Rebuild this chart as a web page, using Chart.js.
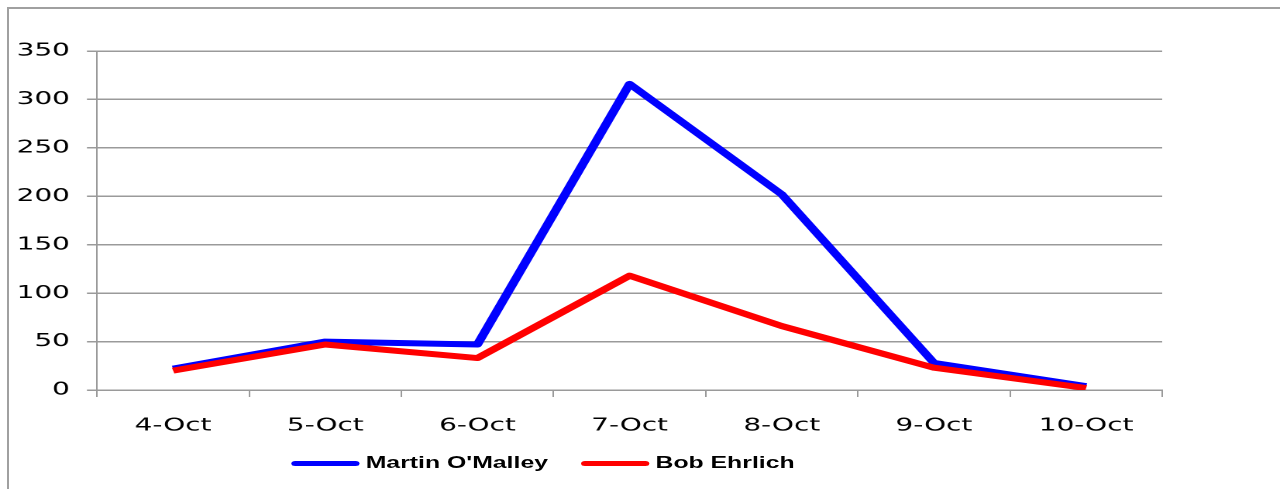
<!DOCTYPE html>
<html>
<head>
<meta charset="utf-8">
<script src="https://cdn.jsdelivr.net/npm/chart.js@4"></script>
<style>
  html, body { margin: 0; padding: 0; background: #fff; overflow: hidden; }
  #frame {
    position: absolute; left: 7px; top: 7px; width: 1300px; height: 520px;
    border-left: 2px solid #a0a0a0; border-top: 2px solid #a0a0a0;
  }
  /* the original picture is stretched sideways, so draw narrow and widen */
  #wrap {
    position: absolute; left: 0; top: 0; width: 826px; height: 489px;
    transform: scaleX(1.5496); transform-origin: 0 0;
  }
  #legend {
    position: absolute; top: 451px; left: 0; width: 826px; height: 24px;
    font: bold 16px "Liberation Sans", Arial, sans-serif; color: #000;
  }
  .item { position: absolute; top: 0; display: flex; align-items: center; height: 24px; }
  .swatch { width: 44px; height: 5px; border-radius: 3px; margin-right: 4px; }
</style>
</head>
<body>
<div id="frame"></div>
<div id="wrap">
  <canvas id="chart" width="826" height="489"></canvas>
  <div id="legend"></div>
</div>
<script>
const days = ['4-Oct', '5-Oct', '6-Oct', '7-Oct', '8-Oct', '9-Oct', '10-Oct'];
const omalley = [22, 50, 47, 316, 202, 28, 4];
const ehrlich = [20, 47, 33, 118, 66, 23, 2];
const yTicks = [0, 50, 100, 150, 200, 250, 300, 350];

const gridColor = '#9a9a9a';
const tickFont = { family: '"DejaVu Sans", Verdana, sans-serif', size: 18 };

const line = {
    borderWidth: 6,
    pointRadius: 0,
    tension: 0,
    fill: false,
    borderJoinStyle: 'round',
};

const series = [
    { label: "Martin O'Malley", data: omalley, color: '#0000ff', order: 1 },
    { label: 'Bob Ehrlich',     data: ehrlich, color: '#ff0000', order: 0 },
];

new Chart(document.getElementById('chart'), {
    type: 'line',
    data: {
        labels: days,
        datasets: series.map(s => ({
            ...line,
            label: s.label,
            data: s.data,
            order: s.order,
            borderColor: s.color,
            backgroundColor: s.color,
        })),
    },
    options: {
        responsive: false,
        animation: false,
        devicePixelRatio: 2,
        layout: { padding: { left: 0, right: 76, top: 51, bottom: 39 } },
        plugins: {
            legend: { display: false },
            tooltip: { enabled: false },
        },
        scales: {
            x: {
                offset: true,
                grid: {
                    offset: true,
                    drawOnChartArea: false,
                    drawTicks: true,
                    tickLength: 7,
                    color: gridColor,
                },
                border: { color: gridColor, width: 1.5 },
                ticks: { color: '#000', font: tickFont, padding: 18, maxRotation: 0 },
                afterFit: axis => { axis.height = 60; },
            },
            y: {
                min: 0,
                max: 350,
                afterBuildTicks: axis => { axis.ticks = yTicks.map(v => ({ value: v })); },
                grid: { color: gridColor, lineWidth: 1.5, tickLength: 6.5 },
                border: { color: gridColor, width: 1 },
                ticks: { color: '#000', font: tickFont, padding: 11 },
                afterFit: axis => { axis.width = 62.6; },
            },
        },
    },
});

// legend, placed like the original (not centred on the plot)
const legendPos = [188, 375];
const legend = document.getElementById('legend');
series.forEach((s, i) => {
    const item = document.createElement('div');
    item.className = 'item';
    item.style.left = legendPos[i] + 'px';
    item.innerHTML = `<span class="swatch" style="background:${s.color}"></span><span>${s.label}</span>`;
    legend.appendChild(item);
});
</script>
</body>
</html>
